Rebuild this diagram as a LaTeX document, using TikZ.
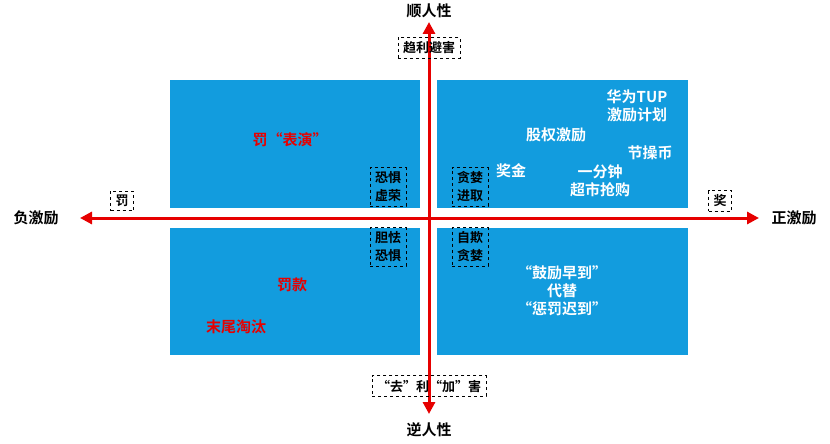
\documentclass[tikz,border=0pt]{standalone}
\usepackage{fontspec}
\setmainfont{Noto Sans CJK SC}[BoldFont={Noto Sans CJK SC Bold}]
\usetikzlibrary{arrows.meta,positioning}
\definecolor{quadblue}{RGB}{18,156,222}
\definecolor{axisred}{RGB}{230,0,0}
\tikzset{
  quad/.style={fill=quadblue,draw=none},
  axis/.style={{Triangle[length=12pt,width=12pt]}-{Triangle[length=12pt,width=12pt]},line width=3pt,axisred},
  tag/.style={draw,dashed,thick,inner xsep=5pt,inner ysep=4pt,font=\fontsize{13}{18}\selectfont\bfseries,align=center},
  lbl/.style={font=\fontsize{15}{18}\selectfont\bfseries,align=center},
  wlbl/.style={lbl,text=white},
  rlbl/.style={lbl,text=axisred},
}
\begin{document}
\begin{tikzpicture}[x=1pt,y=-1pt]
  \useasboundingbox (0,0) rectangle (830,444);
  % quadrants
  \fill[quad] (170,80) rectangle (420,208);
  \fill[quad] (437,80) rectangle (688,208);
  \fill[quad] (170,228) rectangle (420,355);
  \fill[quad] (437,228) rectangle (688,355);
  % axes
  \coordinate (left) at (80,218);
  \coordinate (right) at (759,218);
  \coordinate (top) at (429,22);
  \coordinate (bottom) at (429,414);
  \draw[axis] (left) -- (right);
  \draw[axis] (bottom) -- (top);
  \node[lbl] (up)   at (429,11)  {顺人性};
  \node[lbl] (down) at (429,430) {逆人性};
  \node[lbl] (neg)  at (36,218)  {负激励};
  \node[lbl] (pos)  at (794,218) {正激励};
  % tags
  \node[tag] (seek)  at (429,48)  {趋利避害};
  \node[tag] (avoid) at (429,386) {“去”利“加”害};
  \node[tag] (pun)   at (122,201) {罚};
  \node[tag] (rew)   at (720,201) {奖};
  \node[tag] (fearv) at (388,187) {恐惧\\虚荣};
  \node[tag] (greed) at (470,187) {贪婪\\进取};
  \node[tag] (timid) at (388,247) {胆怯\\恐惧};
  \node[tag] (self)  at (470,247) {自欺\\贪婪};
  % quadrant texts
  \node[rlbl] (show)  at (290,140) {罚“表演”};
  \node[rlbl] (fine)  at (292,285) {罚款};
  \node[rlbl] (elim)  at (236,327) {末尾淘汰};
  \node[wlbl] (tup)   at (637,106) {华为TUP\\激励计划};
  \node[wlbl] (stock) at (556,135) {股权激励};
  \node[wlbl] (coin)  at (650,153) {节操币};
  \node[wlbl] (bonus) at (511,171) {奖金};
  \node[wlbl] (shop)  at (600,181) {一分钟\\超市抢购};
  \node[wlbl] (early) at (562,291) {“鼓励早到”\\代替\\“惩罚迟到”};
\end{tikzpicture}
\end{document}
